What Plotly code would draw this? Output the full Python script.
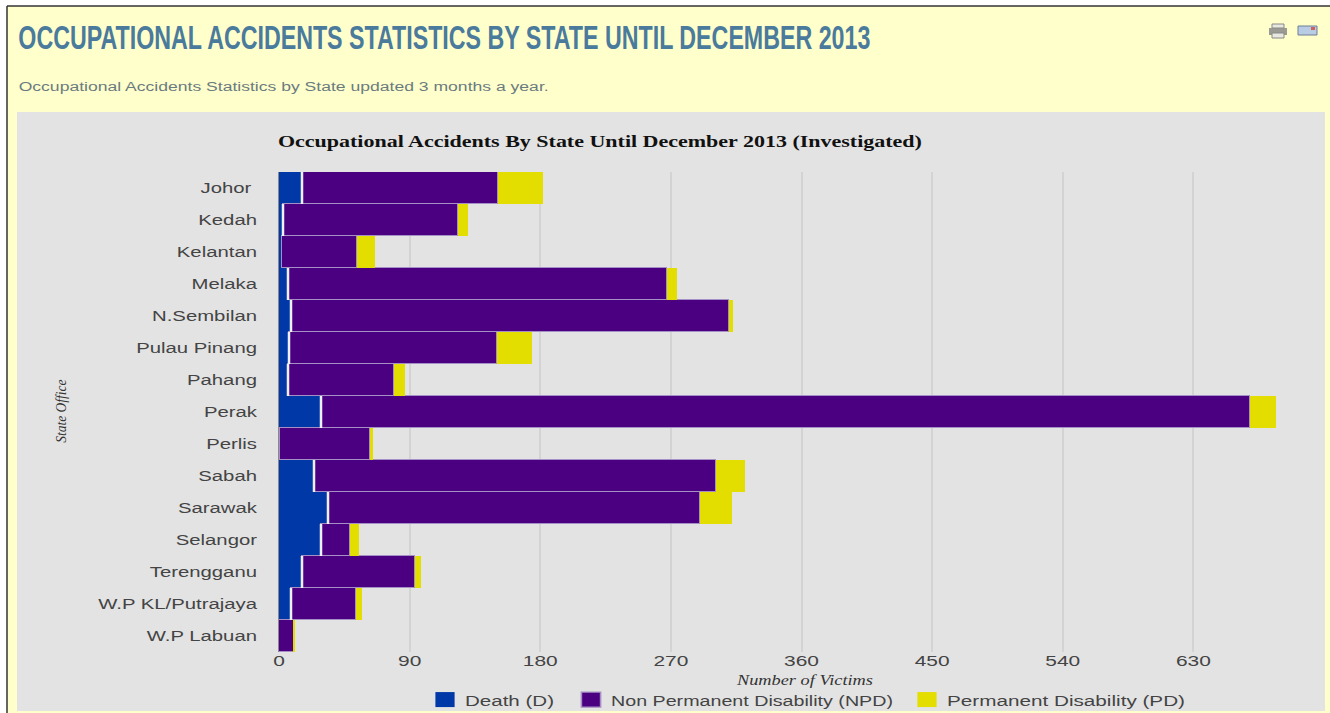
import plotly.graph_objects as go

states = ["Johor\u00a0", "Kedah", "Kelantan", "Melaka", "N.Sembilan", "Pulau Pinang", "Pahang", "Perak",
          "Perlis", "Sabah", "Sarawak", "Selangor", "Terengganu", "W.P KL/Putrajaya", "W.P Labuan"]
death = [16, 3, 2, 6, 8, 7, 6, 29, 1, 24, 34, 29, 16, 8, 0]
npd = [135, 120, 52, 261, 302, 143, 73, 640, 62, 277, 256, 20, 78, 45, 10]
pd = [31, 7, 12, 7, 3, 24, 8, 18, 2, 20, 22, 6, 4, 4, 1]
x_ticks = [0, 90, 180, 270, 360, 450, 540, 630, 720]
x_labels = ["0", "90", "180", "270", "360", "450", "540", "630", ""]

W, H = 1330, 713
def X(p): return p / W
def Y(p): return 1 - p / H

fig = go.Figure()
fig.add_bar(y=states, x=death, name="Death (D)", orientation="h",
            marker=dict(color="#0038A8", line=dict(color="#E8ECF4", width=0)))
fig.add_bar(y=states, x=npd, name="Non Permanent Disability (NPD)", orientation="h",
            marker=dict(color="#4B0082", line=dict(color="#A58FC4", width=1)))
fig.add_bar(y=states, x=pd, name="Permanent Disability (PD)", orientation="h",
            marker=dict(color="#E3DE00", line=dict(color="#E3DE00", width=0)))

def rect(x0, x1, y0, y1, fill, line=None, layer="above"):
    return dict(type="rect", xref="paper", yref="paper", x0=X(x0), x1=X(x1), y0=Y(y1), y1=Y(y0),
                fillcolor=fill, line=dict(color=line, width=1) if line else dict(width=0), layer=layer)

shapes = [
    rect(7, 1330, 6, 713, "#FFFFCC", layer="below"),
    rect(17, 1325, 112, 711, "#E3E3E3", layer="below"),
    dict(type="line", xref="paper", yref="paper", x0=X(7), x1=X(1330), y0=Y(6), y1=Y(6),
         line=dict(color="#333333", width=1.5)),
    dict(type="line", xref="paper", yref="paper", x0=X(7), x1=X(7), y0=Y(713), y1=Y(6),
         line=dict(color="#333333", width=1.5)),
    rect(1269, 1287, 28, 35, "#9A9A92"),
    rect(1272, 1284, 24, 28, "#E8E8E0", "#888888"),
    rect(1272, 1284, 33, 38, "#E8E8E0", "#888888"),
    rect(1298, 1317, 26, 35, "#B8CCE4", "#6E7F96"),
    rect(1311, 1315, 27, 30, "#D06060"),
]

annotations = [
    dict(text="OCCUPATIONAL ACCIDENTS STATISTICS BY STATE UNTIL DECEMBER 2013", xref="paper", yref="paper",
         x=X(444), y=Y(37), xanchor="center", yanchor="middle", showarrow=False,
         font=dict(family="Liberation Sans", size=33, weight="bold", color="#4A7A9C")),
    dict(text="Occupational Accidents Statistics by State updated 3 months a year.", xref="paper", yref="paper",
         x=X(283), y=Y(87), xanchor="center", yanchor="middle", showarrow=False,
         font=dict(family="Liberation Sans", size=12.5, color="#6B7B80")),
    dict(text="Occupational Accidents By State Until December 2013 (Investigated)", xref="paper", yref="paper",
         x=X(600), y=Y(141), xanchor="center", yanchor="middle", showarrow=False,
         font=dict(family="Liberation Serif", size=17, weight="bold", color="#111111")),
    dict(text="Number of Victims", xref="paper", yref="paper",
         x=X(805), y=Y(680), xanchor="center", yanchor="middle", showarrow=False,
         font=dict(family="Liberation Serif", size=14, style="italic", color="#333333")),
    dict(text="State Office", xref="paper", yref="paper", textangle=-90,
         x=X(62), y=Y(411), xanchor="center", yanchor="middle", showarrow=False,
         font=dict(family="Liberation Serif", size=14, style="italic", color="#333333")),
]

fig.update_layout(
    width=W, height=H, barmode="stack", bargap=0,
    margin=dict(l=0, r=0, t=0, b=0, autoexpand=False),
    paper_bgcolor="#FFFFFF", plot_bgcolor="rgba(0,0,0,0)",
    shapes=shapes, annotations=annotations,
    font=dict(family="Liberation Sans", size=15.5, color="#444444"),
    legend=dict(orientation="h", x=X(428), y=Y(700), xanchor="left", yanchor="middle",
                bgcolor="rgba(0,0,0,0)", traceorder="normal", itemclick=False,
                font=dict(family="Liberation Sans", size=15.5, color="#444444")),
    xaxis=dict(domain=[X(279), X(1324)], range=[0, 720], tickvals=x_ticks, ticktext=x_labels, ticks="",
               ticklabelstandoff=-3, automargin=False, showgrid=True, gridcolor="#D3D3D3", gridwidth=2,
               zeroline=True, zerolinecolor="#888888", zerolinewidth=2, showline=False,
               tickfont=dict(family="Liberation Sans", size=15.5, color="#444444")),
    yaxis=dict(domain=[Y(652), Y(172)], autorange="reversed", type="category", automargin=False,
               categoryorder="array", categoryarray=states, ticks="", ticklabelstandoff=21,
               showgrid=False, zeroline=False, showline=False,
               tickfont=dict(family="Liberation Sans", size=15.5, color="#444444")),
)

post = """
document.body.style.margin='0';document.body.style.overflow='hidden';
var g=document.querySelector('.js-plotly-plot');
g.style.position='fixed';g.style.left='0';g.style.top='0';
function fit(t,len){t.setAttribute('textLength',len);t.setAttribute('lengthAdjust','spacingAndGlyphs');}
function scale(sel,f){g.querySelectorAll(sel).forEach(function(t){fit(t,t.getComputedTextLength()*f);});}
var an=g.querySelectorAll('.annotation-text');
[852,530,644,136,63].forEach(function(l,i){if(an[i])fit(an[i],l);});
scale('.ytick text',1.31);scale('.xtick text',1.35);
var lg=g.querySelector('.legend');
var lm=(lg.getAttribute('transform')||'').match(/,\\s*([-\\d.]+)/);
lg.setAttribute('transform','translate(0,'+(lm?lm[1]:0)+')');
lg.style.overflow='visible';
var sb=lg.querySelector('.scrollbox');if(sb)sb.removeAttribute('clip-path');lg.removeAttribute('clip-path');
var xs=[425,571,907],ls=[89,282,238];
lg.querySelectorAll('.traces').forEach(function(tr,i){
  var m=(tr.getAttribute('transform')||'').match(/,\\s*([-\\d.]+)/);
  tr.setAttribute('transform','translate('+xs[i]+','+(m?m[1]:0)+')');
  var p=tr.querySelector('.legendsymbols path');
  if(p)p.setAttribute('transform','translate(20,0) scale(1.6,1.25)');
  var s=tr.querySelector('text');if(s)fit(s,ls[i]);
});
var bl=g.querySelector('.barlayer');
var tp=bl.querySelectorAll('.trace')[0];
tp.querySelectorAll('path').forEach(function(p){
  var b=p.getBBox();if(b.width<4)return;
  var l=document.createElementNS('http://www.w3.org/2000/svg','line');
  var x=b.x+b.width;
  l.setAttribute('x1',x);l.setAttribute('x2',x);l.setAttribute('y1',b.y);l.setAttribute('y2',b.y+b.height);
  l.setAttribute('stroke','#EEF0F6');l.setAttribute('stroke-width','2.5');
  bl.appendChild(l);
});
"""
fig.write_html("out.html", config=dict(displayModeBar=False), post_script=post)
